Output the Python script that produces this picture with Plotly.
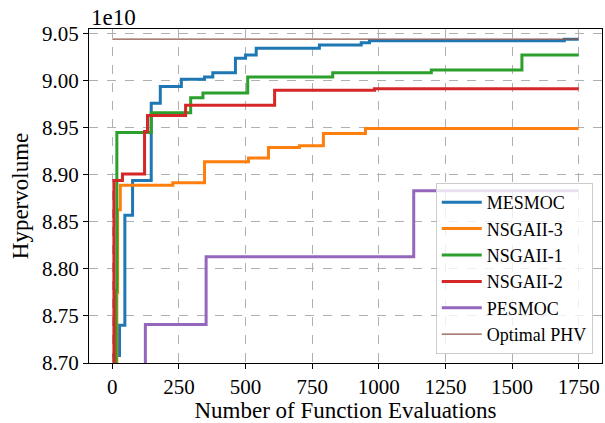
import plotly.graph_objects as go

# Values in units of 1e10
mesmoc_x = [0, 27, 47, 76, 146, 180, 259, 346, 377, 462, 500, 540, 777, 934, 965, 1696, 1750]
mesmoc_y = [8.708, 8.740, 8.857, 8.894, 8.976, 8.994, 9.0015, 9.004, 9.0086, 9.0238, 9.0273, 9.0345, 9.038, 9.0405, 9.0426, 9.044, 9.044]

nsga3_x = [0, 17, 20, 30, 227, 346, 511, 586, 702, 792, 950, 1750]
nsga3_y = [8.60, 8.775, 8.863, 8.889, 8.8915, 8.914, 8.918, 8.929, 8.931, 8.944, 8.9493, 8.9493]

nsga1_x = [0, 14, 17, 146, 294, 340, 508, 827, 1197, 1537, 1750]
nsga1_y = [8.60, 8.777, 8.945, 8.966, 8.982, 8.987, 9.004, 9.0086, 9.0114, 9.0273, 9.0273]

nsga2_x = [0, 6, 38, 121, 132, 275, 609, 984, 1750]
nsga2_y = [8.60, 8.894, 8.901, 8.946, 8.963, 8.974, 8.990, 8.9916, 8.9916]

pesmoc_x = [0, 124, 352, 1131, 1750]
pesmoc_y = [8.60, 8.741, 8.813, 8.883, 8.883]

optimal_x = [0, 1750]
optimal_y = [9.0442, 9.0442]

series = [
    ("MESMOC", mesmoc_x, mesmoc_y, "#1f77b4", 3),
    ("NSGAII-3", nsga3_x, nsga3_y, "#ff7f0e", 3),
    ("NSGAII-1", nsga1_x, nsga1_y, "#2ca02c", 3),
    ("NSGAII-2", nsga2_x, nsga2_y, "#d62728", 3),
    ("PESMOC", pesmoc_x, pesmoc_y, "#9467bd", 3),
    ("Optimal PHV", optimal_x, optimal_y, "#8c564b", 1.2),
]

xticks = [0, 250, 500, 750, 1000, 1250, 1500, 1750]
yticks = [8.70, 8.75, 8.80, 8.85, 8.90, 8.95, 9.00, 9.05]

FONT = "Liberation Serif, Times New Roman, serif"

fig = go.Figure()
for i, (name, xs, ys, color, w) in enumerate(series):
    fig.add_trace(go.Scatter(
        x=xs, y=ys, mode="lines", name=name,
        line=dict(color=color, width=w, shape="hv"),
    ))

axis_common = dict(
    showline=True, linecolor="black", linewidth=1.2, mirror=True,
    ticks="outside", ticklen=5, tickcolor="black",
    showgrid=True, gridcolor="#b0b0b0", griddash="dash", gridwidth=1,
    zeroline=False,
    tickfont=dict(family=FONT, size=21, color="black"),
)

fig.update_xaxes(
    range=[-87.5, 1837.5], tickvals=xticks, ticktext=[str(v) for v in xticks],
    title=dict(text="Number of Function Evaluations", font=dict(family=FONT, size=23, color="black"), standoff=0),
    **axis_common,
)
fig.update_yaxes(
    range=[8.70, 9.055], tickvals=yticks, ticktext=[f"{v:.2f}" for v in yticks],
    title=dict(text="Hypervolume", font=dict(family=FONT, size=23, color="black"), standoff=6),
    **axis_common,
)

fig.add_annotation(
    text="1e10", xref="paper", yref="paper", x=0, y=1.0, xanchor="left", yanchor="bottom",
    showarrow=False, font=dict(family=FONT, size=23, color="black"), xshift=0, yshift=-3,
)

fig.update_layout(
    width=605, height=423,
    margin=dict(l=89, r=3, t=29, b=60),
    paper_bgcolor="white", plot_bgcolor="white",
    font=dict(family=FONT, color="black"),
    legend=dict(
        x=0.982, y=0.027, xanchor="right", yanchor="bottom",
        bgcolor="rgba(255,255,255,0.8)", bordercolor="#cccccc", borderwidth=1,
        font=dict(family=FONT, size=18, color="black"),
        tracegroupgap=0, itemwidth=40,
    ),
    showlegend=True,
)

fig.write_html("out.html")
